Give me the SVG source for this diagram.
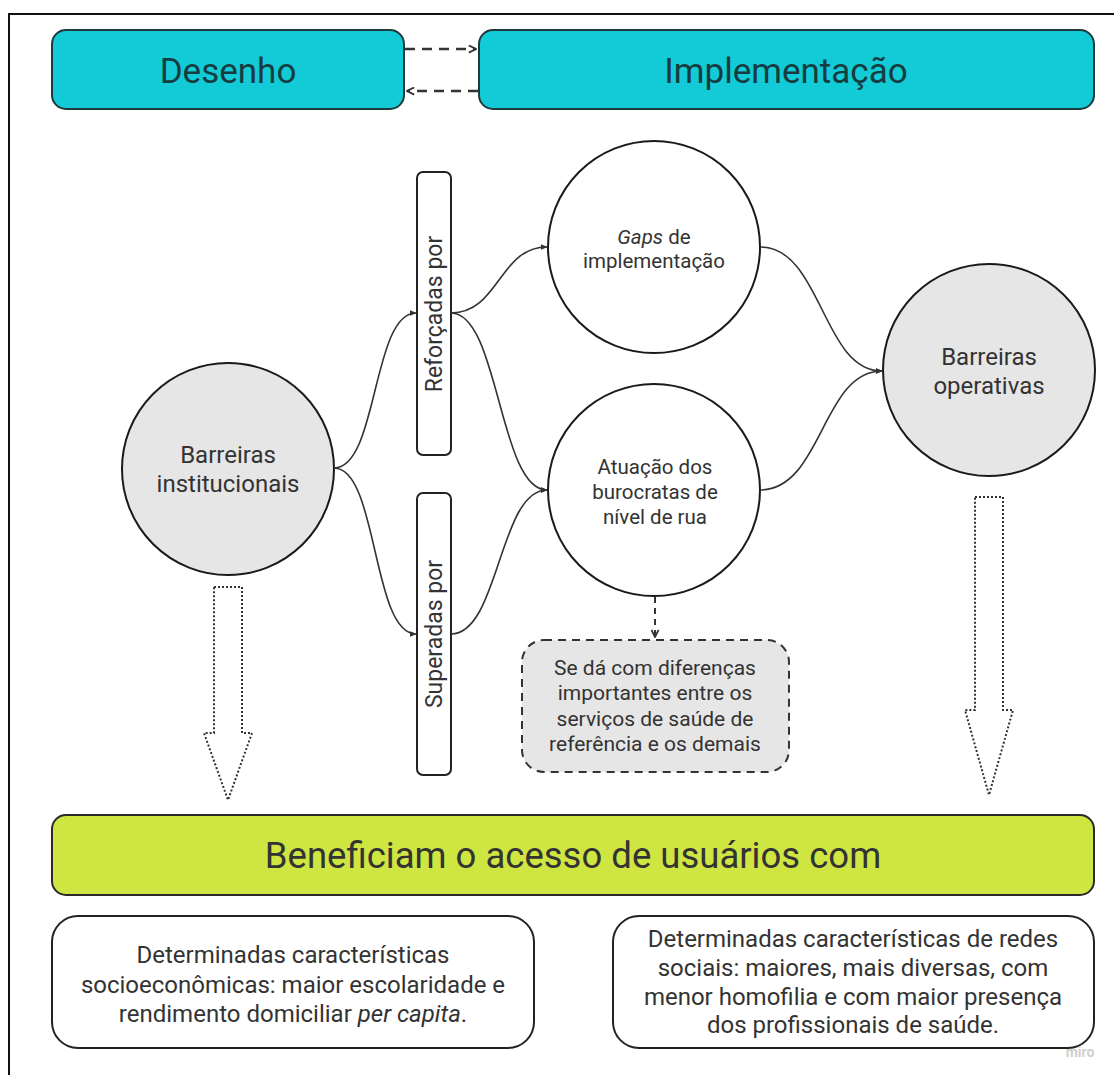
<svg xmlns="http://www.w3.org/2000/svg" width="1114" height="1075" viewBox="0 0 1114 1075">
<defs>
<style>
text{font-family:Roboto,"Liberation Sans",sans-serif;fill:#333;text-anchor:middle;dominant-baseline:central}
.head{fill:#12cbd6;stroke:#1f3a3c;stroke-width:2}
.headt{font-size:35px;fill:#163c3f}
.circ{stroke:#1a1a1a;stroke-width:2}
.grey{fill:#e6e6e6}
.white{fill:#fff}
.ct{font-size:24px}
.mt{font-size:20.5px}
.nt{font-size:21px}
.vbox{fill:#fff;stroke:#222;stroke-width:2}
.vt{font-size:23px}
.conn{fill:none;stroke:#333;stroke-width:1.6;marker-end:url(#ah)}
.dash{fill:none;stroke:#333;stroke-width:2.5;stroke-dasharray:10 7}
.hollow{fill:#fff;stroke:#333;stroke-width:2;stroke-dasharray:2 2}
.bt{font-size:24px}
</style>
<marker id="ah" viewBox="0 0 10 10" refX="9" refY="5" markerWidth="7" markerHeight="7" markerUnits="userSpaceOnUse" orient="auto">
<path d="M0,1 L10,5 L0,9 Z" fill="#333"/>
</marker>
<marker id="ahd" viewBox="0 0 10 10" refX="9" refY="5" markerWidth="9" markerHeight="9" markerUnits="userSpaceOnUse" orient="auto">
<path d="M1,1 L9,5 L1,9" fill="none" stroke="#333" stroke-width="2"/>
</marker>
</defs>
<rect width="1114" height="1075" fill="#fff"/>
<path d="M9,1075 V14 H1114" fill="none" stroke="#111" stroke-width="2"/>

<g id="desenho">
<rect class="head" x="52" y="30" width="352" height="79" rx="14"/>
<text class="headt" x="228" y="71">Desenho</text>
</g>
<g id="implementacao">
<rect class="head" x="479" y="30" width="615" height="79" rx="14"/>
<text class="headt" x="786" y="71">Implementação</text>
</g>

<g id="barreiras-institucionais">
<circle class="circ grey" cx="228" cy="469" r="106"/>
<text class="ct" x="228" y="455">Barreiras</text>
<text class="ct" x="228" y="484">institucionais</text>
</g>

<g id="reforcadas">
<rect class="vbox" x="417" y="172" width="34" height="283" rx="6"/>
<text class="vt" transform="translate(434,314) rotate(-90)">Reforçadas por</text>
</g>
<g id="superadas">
<rect class="vbox" x="417" y="493" width="34" height="282" rx="6"/>
<text class="vt" transform="translate(434,634) rotate(-90)">Superadas por</text>
</g>

<g id="gaps">
<circle class="circ white" cx="654" cy="247" r="106"/>
<text class="mt" x="654" y="237"><tspan font-style="italic">Gaps</tspan> de</text>
<text class="mt" x="654" y="261">implementação</text>
</g>

<g id="atuacao">
<circle class="circ white" cx="654" cy="490" r="106"/>
<text class="mt" x="655" y="467">Atuação dos</text>
<text class="mt" x="655" y="492">burocratas de</text>
<text class="mt" x="655" y="517">nível de rua</text>
</g>

<g id="barreiras-operativas">
<circle class="circ grey" cx="989" cy="370" r="106"/>
<text class="ct" x="989" y="357">Barreiras</text>
<text class="ct" x="989" y="386">operativas</text>
</g>

<g id="nota">
<rect x="522" y="640" width="267" height="132" rx="22" fill="#e6e6e6" stroke="#333" stroke-width="2" stroke-dasharray="8 6"/>
<text class="nt" x="655" y="668">Se dá com diferenças</text>
<text class="nt" x="655" y="693">importantes entre os</text>
<text class="nt" x="655" y="719">serviços de saúde de</text>
<text class="nt" x="655" y="744">referência e os demais</text>
</g>

<g id="beneficiam">
<rect x="52" y="815" width="1042" height="80" rx="14" fill="#cfe542" stroke="#2a2a2a" stroke-width="2"/>
<text x="573" y="855" font-size="36.5" fill="#222">Beneficiam o acesso de usuários com</text>
</g>

<g id="socioeconomicas">
<rect x="52" y="916" width="482" height="132" rx="26" fill="#fff" stroke="#222" stroke-width="2"/>
<text class="bt" x="293" y="955">Determinadas características</text>
<text class="bt" x="293" y="985">socioeconômicas: maior escolaridade e</text>
<text class="bt" x="293" y="1014">rendimento domiciliar <tspan font-style="italic">per capita</tspan>.</text>
</g>

<g id="redes-sociais">
<rect x="613" y="916" width="481" height="132" rx="26" fill="#fff" stroke="#222" stroke-width="2"/>
<text class="bt" x="853" y="939">Determinadas características de redes</text>
<text class="bt" x="853" y="968">sociais: maiores, mais diversas, com</text>
<text class="bt" x="853" y="997">menor homofilia e com maior presença</text>
<text class="bt" x="853" y="1025">dos profissionais de saúde.</text>
</g>

<g id="connectors">
<path class="dash" d="M405,49 H476" marker-end="url(#ahd)"/>
<path class="dash" d="M478,91 H407" marker-end="url(#ahd)"/>
<path class="conn" d="M334,468 C378,468 372,313 416,313"/>
<path class="conn" d="M334,468 C378,468 372,634 416,634"/>
<path class="conn" d="M451,313 C499,313 499,247 547,247"/>
<path class="conn" d="M451,313 C499,313 499,490 547,490"/>
<path class="conn" d="M451,634 C499,634 499,490 547,490"/>
<path class="conn" d="M760,247 C822,247 822,371 882,371"/>
<path class="conn" d="M760,490 C822,490 822,371 882,371"/>
<path d="M655,597 V637" fill="none" stroke="#333" stroke-width="2" stroke-dasharray="6 5" marker-end="url(#ahd)"/>
<path class="hollow" d="M214,587 H242 V733 H252 L228,800 L204,733 H214 Z"/>
<path class="hollow" d="M975,497 H1003 V710 H1013 L989,795 L965,710 H975 Z"/>
</g>
<text x="1080" y="1052" font-size="14" font-weight="bold" style="fill:#d0d0d0">miro</text>
</svg>
